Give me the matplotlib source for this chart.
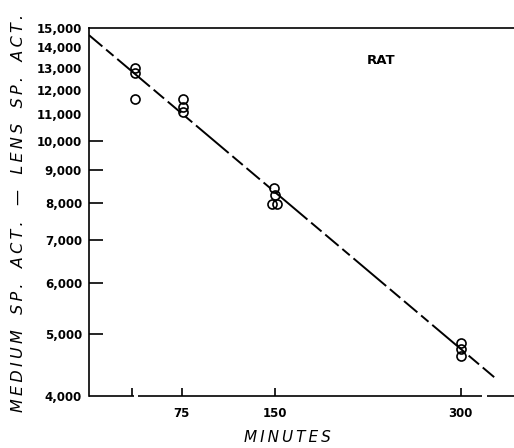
import numpy as np
import matplotlib
matplotlib.use("Agg")
import matplotlib.pyplot as plt
import matplotlib.transforms as mtransforms

# Datos ---------------------------------------------------------------------
minutos_37 = [37, 37, 37]
actividad_37 = [12990, 12770, 11630]
minutos_75 = [76, 76, 76]
actividad_75 = [11630, 11300, 11100]
minutos_150 = [149, 150, 148, 152]
actividad_150 = [8430, 8220, 7985, 7985]
minutos_300 = [300, 300, 300]
actividad_300 = [4840, 4730, 4615]

# recta ajustada (extremos)
recta_min = [0, 327]
recta_act = [14620, 4280]

ytick_vals = [4000, 5000, 6000, 7000, 8000, 9000, 10000, 11000, 12000, 13000, 14000, 15000]
xtick_vals = [35, 75, 150, 300]
xtick_labels = ["", "75", "150", "300"]


def espaciado(s, sep="\u2009"):
    return sep.join(s)


# Figura --------------------------------------------------------------------
fig = plt.figure(figsize=(5.14, 4.48), dpi=100)
ax = fig.add_axes([89 / 514, 1 - 396 / 448, 1 - 89 / 514, (396 - 28) / 448])

ax.set_yscale("log")
ax.set_ylim(4000, 15000)
ax.set_xlim(0, 343)

# recta exponencial (recta en escala log)
xx = np.linspace(recta_min[0], recta_min[1], 200)
k = np.log(recta_act[1] / recta_act[0]) / (recta_min[1] - recta_min[0])
yy = recta_act[0] * np.exp(k * (xx - recta_min[0]))
ax.plot(xx, yy, color="black", lw=1.4,
        dashes=(9, 2.5, 5, 2.5, 22, 2.5, 7, 2.5), solid_capstyle="butt")

for mx, ac in [(minutos_37, actividad_37), (minutos_75, actividad_75),
               (minutos_150, actividad_150), (minutos_300, actividad_300)]:
    ax.plot(mx, ac, "o", ms=6.5, mfc="none", mec="black", mew=1.2)

# ejes
ax.spines["right"].set_visible(False)
ax.spines["bottom"].set_visible(False)
ax.spines["left"].set_linewidth(1.2)
ax.spines["top"].set_linewidth(1.2)

trans = mtransforms.blended_transform_factory(ax.transData, ax.transAxes)
for x0, x1 in [(0, 36.5), (39.5, 317), (321, 343)]:
    ax.plot([x0, x1], [0, 0], color="black", lw=1.2, transform=trans,
            clip_on=False, solid_capstyle="butt")

ax.yaxis.set_major_locator(matplotlib.ticker.FixedLocator(ytick_vals))
ax.yaxis.set_minor_locator(matplotlib.ticker.NullLocator())
ax.set_yticklabels([f"{v:,}" for v in ytick_vals])
ax.tick_params(axis="y", direction="in", length=10, width=1.2, pad=5,
               labelsize=8.5)
for t, v in zip(ax.yaxis.get_major_ticks(), ytick_vals):
    if v > 10000 or v == 4000:
        t.tick1line.set_visible(False)
for lab in ax.get_yticklabels():
    lab.set_fontweight("bold")

ax.set_xticks(xtick_vals)
ax.set_xticklabels(xtick_labels)
ax.tick_params(axis="x", direction="in", length=6, width=1.2, pad=8,
               labelsize=8.5)
for lab in ax.get_xticklabels():
    lab.set_fontweight("bold")

ax.text(236, 13330, "RAT", ha="center", va="center", fontsize=9.5,
        fontweight="bold")

fig.text(287 / 514, 1 - 437 / 448, espaciado("MINUTES"), ha="center",
         va="center", fontsize=11, style="italic", fontweight="medium")

ylab = ("   ".join(espaciado(w) for w in ["MEDIUM", "SP.", "ACT."])
        + "   —   "
        + "   ".join(espaciado(w) for w in ["LENS", "SP.", "ACT."]))
fig.text(19 / 514, 1 - 213 / 448, ylab, ha="center", va="center",
         rotation=90, fontsize=11.5, style="italic")

fig.savefig("out.png", dpi=100)
